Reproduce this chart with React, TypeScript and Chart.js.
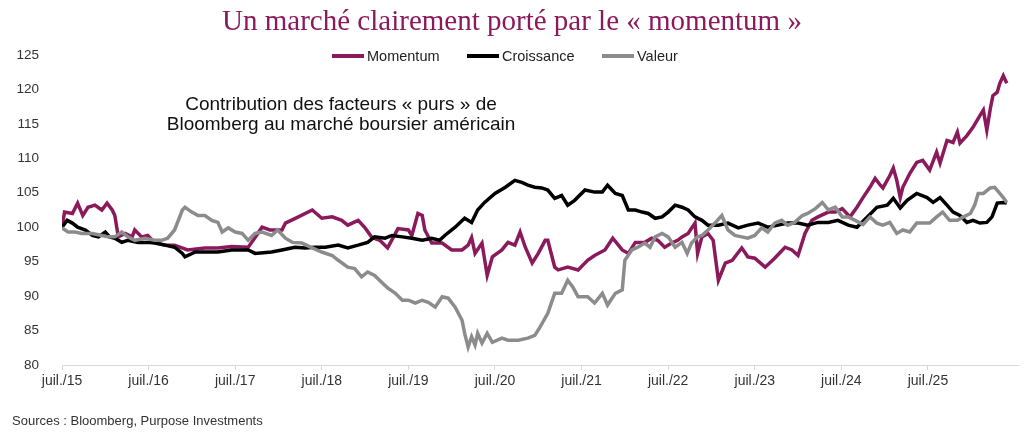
import React, { useEffect, useRef } from "react";
import { Chart, registerables } from "chart.js";

Chart.register(...registerables);

// Series: [decimal year, index value]
const momentum: [number, number][] = [
  [2015.50, 100], [2015.53, 102.2], [2015.62, 102], [2015.68, 103.5], [2015.74, 101.7],
  [2015.80, 102.9], [2015.88, 103.2], [2015.96, 102.5], [2016.02, 103.5], [2016.08, 102.5],
  [2016.11, 101.7], [2016.15, 98.6], [2016.23, 99.1], [2016.31, 98.6], [2016.34, 99.6],
  [2016.42, 98.6], [2016.49, 98.8], [2016.57, 97.8], [2016.69, 97.4], [2016.80, 97.4],
  [2016.95, 96.7], [2017.15, 97], [2017.30, 97], [2017.46, 97.2], [2017.65, 97.1],
  [2017.73, 98.5], [2017.81, 100], [2017.90, 99.6], [2018.04, 99.6], [2018.08, 100.6],
  [2018.23, 101.5], [2018.39, 102.5], [2018.50, 101.3], [2018.62, 101.5], [2018.73, 101],
  [2018.80, 100.3], [2018.92, 101], [2019.00, 99.9], [2019.08, 98.5], [2019.17, 98.1],
  [2019.26, 97], [2019.38, 99.8], [2019.50, 99.6], [2019.54, 98.8], [2019.61, 102],
  [2019.66, 101.7], [2019.69, 99.6], [2019.77, 97.7], [2019.89, 97.7], [2020.00, 96.7],
  [2020.12, 96.7], [2020.19, 97.4], [2020.23, 98.5], [2020.27, 96.2], [2020.35, 97.7],
  [2020.41, 93], [2020.47, 95.7], [2020.58, 96.7], [2020.65, 97.8], [2020.73, 97.4],
  [2020.79, 99.3], [2020.85, 97.1], [2020.93, 94.8], [2021.00, 96.2], [2021.08, 98.1],
  [2021.11, 98.1], [2021.19, 94.2], [2021.23, 93.8], [2021.34, 94.2], [2021.46, 93.8],
  [2021.57, 95.2], [2021.65, 95.9], [2021.77, 96.7], [2021.86, 98.4], [2021.97, 96.7],
  [2022.04, 96.2], [2022.12, 97.8], [2022.23, 97.8], [2022.31, 98.4], [2022.38, 98.1],
  [2022.46, 97.1], [2022.54, 97.7], [2022.61, 98.1], [2022.66, 98.6], [2022.73, 99.1],
  [2022.81, 100.6], [2022.84, 96.2], [2022.89, 98.6], [2022.96, 99.1], [2023.02, 98.1],
  [2023.08, 92.3], [2023.16, 94.8], [2023.24, 95.2], [2023.35, 97], [2023.42, 95.7],
  [2023.50, 95.5], [2023.62, 94.2], [2023.73, 95.5], [2023.85, 97.1], [2023.93, 96.7],
  [2024.00, 95.9], [2024.08, 99.1], [2024.16, 101], [2024.23, 101.5], [2024.35, 102.2],
  [2024.43, 102.2], [2024.51, 102.7], [2024.60, 101.5], [2024.68, 102.9], [2024.75, 104.3],
  [2024.83, 105.8], [2024.89, 107.1], [2024.95, 106.1], [2024.98, 105.7], [2025.06, 107.5],
  [2025.10, 108.6], [2025.14, 106.8], [2025.18, 104.3], [2025.21, 105.8], [2025.29, 107.8],
  [2025.37, 109.4], [2025.44, 109.7], [2025.52, 108.3], [2025.60, 110.9], [2025.64, 109.3],
  [2025.72, 112.6], [2025.79, 112.3], [2025.84, 113.8], [2025.87, 112.2], [2025.95, 113.3],
  [2026.02, 114.5], [2026.10, 116.2], [2026.14, 117], [2026.18, 114.1], [2026.22, 117.2],
  [2026.25, 119.1], [2026.30, 119.6], [2026.33, 120.9], [2026.37, 122], [2026.41, 120.9],
];

const croissance: [number, number][] = [
  [2015.50, 100], [2015.56, 101], [2015.62, 100.6], [2015.68, 100], [2015.77, 99.6],
  [2015.85, 98.8], [2015.92, 98.6], [2016.00, 99.3], [2016.05, 98.6], [2016.11, 98.4],
  [2016.19, 97.8], [2016.26, 98.1], [2016.38, 97.8], [2016.49, 97.8], [2016.57, 97.7],
  [2016.69, 97.4], [2016.80, 97.1], [2016.89, 96.2], [2016.92, 95.7], [2017.04, 96.4],
  [2017.19, 96.4], [2017.30, 96.4], [2017.46, 96.7], [2017.65, 96.7], [2017.73, 96.2],
  [2017.92, 96.4], [2018.04, 96.7], [2018.19, 97.1], [2018.31, 97], [2018.42, 97.1],
  [2018.54, 97.1], [2018.69, 97.4], [2018.80, 97], [2018.92, 97.4], [2019.03, 97.8],
  [2019.11, 98.6], [2019.23, 98.4], [2019.31, 98.8], [2019.43, 98.6], [2019.54, 98.4],
  [2019.66, 98.1], [2019.77, 98.4], [2019.86, 98.1], [2019.92, 98.8], [2020.04, 100],
  [2020.15, 101.3], [2020.23, 100.7], [2020.30, 102.5], [2020.38, 103.6], [2020.50, 104.9],
  [2020.62, 105.8], [2020.73, 106.8], [2020.81, 106.5], [2020.88, 106.1], [2020.96, 105.8],
  [2021.04, 105.7], [2021.11, 105.4], [2021.19, 104.2], [2021.27, 104.6], [2021.34, 103.2],
  [2021.42, 103.9], [2021.54, 105.4], [2021.65, 105.1], [2021.74, 105.1], [2021.80, 106.1],
  [2021.89, 104.9], [2021.97, 104.6], [2022.04, 102.5], [2022.12, 102.5], [2022.20, 102.2],
  [2022.27, 102], [2022.35, 101.3], [2022.43, 101.5], [2022.50, 102.2], [2022.58, 103.2],
  [2022.66, 102.9], [2022.73, 102.5], [2022.81, 101.5], [2022.89, 101], [2022.96, 100.3],
  [2023.08, 100.3], [2023.19, 100.6], [2023.31, 99.9], [2023.42, 100.3], [2023.54, 100.6],
  [2023.65, 100], [2023.77, 100.3], [2023.88, 100.6], [2024.00, 100.6], [2024.11, 100.3],
  [2024.23, 100.7], [2024.35, 100.7], [2024.46, 101], [2024.58, 100.3], [2024.68, 100],
  [2024.80, 101.5], [2024.91, 102.9], [2025.03, 103.2], [2025.10, 104.2], [2025.18, 102.8],
  [2025.26, 103.9], [2025.37, 104.9], [2025.49, 104.3], [2025.56, 103.6], [2025.64, 104.3],
  [2025.72, 103.2], [2025.79, 102.2], [2025.87, 101.7], [2025.95, 100.7], [2026.02, 101],
  [2026.10, 100.6], [2026.18, 100.7], [2026.24, 101.5], [2026.30, 103.5], [2026.37, 103.6],
  [2026.41, 103.5],
];

const valeur: [number, number][] = [
  [2015.50, 99.9], [2015.57, 99.3], [2015.65, 99.3], [2015.73, 99.1], [2015.85, 99.1],
  [2015.96, 98.8], [2016.03, 98.6], [2016.11, 98.6], [2016.19, 99.3], [2016.26, 98.6],
  [2016.34, 98.1], [2016.46, 98.4], [2016.57, 98.1], [2016.65, 98.1], [2016.72, 98.4],
  [2016.80, 99.6], [2016.89, 102.5], [2016.92, 102.9], [2017.00, 102.2], [2017.07, 101.7],
  [2017.15, 101.7], [2017.23, 101], [2017.30, 100.7], [2017.35, 99.3], [2017.42, 99.9],
  [2017.50, 99.3], [2017.58, 99.1], [2017.65, 98.1], [2017.73, 99.1], [2017.81, 99.3],
  [2017.92, 98.8], [2017.99, 99.6], [2018.08, 98.4], [2018.16, 97.8], [2018.27, 97.7],
  [2018.39, 97], [2018.50, 96.4], [2018.62, 95.9], [2018.69, 95.2], [2018.80, 94.2],
  [2018.88, 94], [2018.96, 92.8], [2019.03, 93.5], [2019.11, 93], [2019.20, 91.9],
  [2019.26, 91.2], [2019.35, 90.4], [2019.43, 89.4], [2019.50, 89.4], [2019.58, 89],
  [2019.66, 89.4], [2019.73, 89.1], [2019.81, 88.4], [2019.89, 89.9], [2019.96, 89.7],
  [2020.04, 88.4], [2020.12, 86.5], [2020.15, 84.6], [2020.19, 82.6], [2020.23, 84.1],
  [2020.27, 82.9], [2020.30, 84.6], [2020.35, 83.2], [2020.41, 84.6], [2020.47, 83.3],
  [2020.58, 83.9], [2020.65, 83.6], [2020.77, 83.6], [2020.88, 83.9], [2020.96, 84.3],
  [2021.02, 85.5], [2021.11, 87.5], [2021.19, 90.4], [2021.27, 90.4], [2021.34, 92.3],
  [2021.40, 91.3], [2021.46, 89.9], [2021.57, 89.9], [2021.65, 89], [2021.74, 90.4],
  [2021.80, 88.7], [2021.89, 90.4], [2021.97, 90.9], [2022.00, 95.2], [2022.08, 96.7],
  [2022.15, 97.1], [2022.23, 97.7], [2022.29, 97.1], [2022.35, 98.6], [2022.43, 99.1],
  [2022.50, 98.6], [2022.58, 97.1], [2022.66, 97.8], [2022.72, 96.2], [2022.77, 97.7],
  [2022.84, 98.6], [2022.89, 98.8], [2022.96, 99.6], [2023.04, 100.6], [2023.12, 101.7],
  [2023.19, 99.6], [2023.27, 98.8], [2023.35, 98.6], [2023.42, 98.4], [2023.50, 98.8],
  [2023.58, 99.9], [2023.65, 99.3], [2023.73, 100.6], [2023.81, 101], [2023.88, 100.3],
  [2023.96, 100.7], [2024.05, 101.7], [2024.11, 102], [2024.20, 102.7], [2024.28, 103.6],
  [2024.35, 102.5], [2024.43, 102.9], [2024.51, 101.5], [2024.58, 101.5], [2024.66, 101],
  [2024.75, 100.4], [2024.83, 101.5], [2024.91, 100.6], [2024.98, 100.3], [2025.06, 100.7],
  [2025.14, 99.1], [2025.21, 99.6], [2025.29, 99.3], [2025.37, 100.6], [2025.52, 100.6],
  [2025.60, 101.5], [2025.67, 102.2], [2025.75, 101], [2025.84, 101], [2025.91, 101.5],
  [2025.99, 102], [2026.04, 103.2], [2026.08, 104.9], [2026.14, 104.9], [2026.22, 105.7],
  [2026.27, 105.8], [2026.33, 104.9], [2026.37, 104.3], [2026.41, 103.6],
];

const seriesNames = ["Momentum", "Croissance", "Valeur"];
const seriesColors = ["#8B1A5C", "#000000", "#8C8C8C"];
const xTickValues = [2015.5, 2016.5, 2017.5, 2018.5, 2019.5, 2020.5, 2021.5, 2022.5, 2023.5, 2024.5, 2025.5];
const xTickLabels = ["juil./15", "juil./16", "juil./17", "juil./18", "juil./19", "juil./20", "juil./21", "juil./22", "juil./23", "juil./24", "juil./25"];
const yMin = 80;
const yMax = 125;
const yStep = 5;

const titleText = "Un marché clairement porté par le « momentum »";
const noteLines = ["Contribution des facteurs « purs » de", "Bloomberg au marché boursier américain"];
const sourceText = "Sources : Bloomberg, Purpose Investments";

const SANS = '"Liberation Sans", Arial, sans-serif';

export default function App() {
  const canvasRef = useRef<HTMLCanvasElement | null>(null);

  useEffect(() => {
    const canvas = canvasRef.current;
    if (!canvas) return;
    const all = [momentum, croissance, valeur];
    const chart = new Chart(canvas, {
      type: "line",
      data: {
        datasets: all.map((s, i) => ({
          label: seriesNames[i],
          data: s.map(([x, y]) => ({ x, y })),
          borderColor: seriesColors[i],
          backgroundColor: seriesColors[i],
          borderWidth: 3.5,
          pointRadius: 0,
          tension: 0,
          order: 3 - i,
        })),
      },
      options: {
        animation: false,
        responsive: false,
        devicePixelRatio: 1,
        layout: { padding: { top: 55, right: 6, bottom: 0, left: 0 } },
        plugins: { legend: { display: false }, tooltip: { enabled: false }, title: { display: false } },
        scales: {
          x: {
            type: "linear",
            min: 2015.5,
            max: 2026.54,
            afterBuildTicks: (scale: any) => {
              scale.ticks = xTickValues.map((v) => ({ value: v }));
            },
            afterFit: (scale: any) => {
              scale.height = 79;
            },
            ticks: {
              autoSkip: false,
              maxRotation: 0,
              padding: 3,
              color: "#333333",
              font: { family: SANS, size: 14 },
              callback: (_v: any, i: number) => xTickLabels[i],
            },
            grid: { drawOnChartArea: false, drawTicks: true, tickLength: 5, color: "#D9D9D9" },
            border: { display: true, color: "#D9D9D9", width: 1 },
          },
          y: {
            min: yMin,
            max: yMax,
            afterFit: (scale: any) => {
              scale.width = 62;
            },
            ticks: {
              stepSize: yStep,
              padding: 23,
              color: "#333333",
              font: { family: SANS, size: 13.5 },
            },
            grid: { display: false, drawTicks: false },
            border: { display: false },
          },
        },
      },
    });
    return () => chart.destroy();
  }, []);

  const legendPos = [
    { line: 332, text: 367 },
    { line: 467, text: 502 },
    { line: 602, text: 637 },
  ];

  return (
    <div style={{ position: "fixed", left: 0, top: 0, width: 1024, height: 444, background: "#ffffff", overflow: "hidden" }}>
      <canvas ref={canvasRef} width={1024} height={444} style={{ position: "absolute", left: 0, top: 0, width: 1024, height: 444 }} />
      <div
        style={{
          position: "absolute", left: 0, top: 3, width: 1024, height: 34, lineHeight: "34px",
          textAlign: "center", fontFamily: '"Liberation Serif", "Times New Roman", serif', fontSize: 29,
          color: "#8B1A5C", whiteSpace: "nowrap",
        }}
      >
        {titleText}
      </div>
      {seriesNames.map((n, i) => (
        <React.Fragment key={n}>
          <div style={{ position: "absolute", left: legendPos[i].line, top: 54, width: 32, height: 4, background: seriesColors[i] }} />
          <div
            style={{
              position: "absolute", left: legendPos[i].text, top: 46, height: 20, lineHeight: "20px",
              fontFamily: SANS, fontSize: 14.5, color: "#222222", whiteSpace: "nowrap",
            }}
          >
            {n}
          </div>
        </React.Fragment>
      ))}
      <div
        style={{
          position: "absolute", left: 91, top: 94, width: 500, lineHeight: "20px",
          textAlign: "center", fontFamily: SANS, fontSize: 19, color: "#111111",
        }}
      >
        {noteLines.map((l) => (
          <div key={l} style={{ whiteSpace: "nowrap" }}>{l}</div>
        ))}
      </div>
      <div
        style={{
          position: "absolute", left: 12, top: 412, height: 18, lineHeight: "18px",
          fontFamily: SANS, fontSize: 13, color: "#333333", whiteSpace: "nowrap",
        }}
      >
        {sourceText}
      </div>
    </div>
  );
}
